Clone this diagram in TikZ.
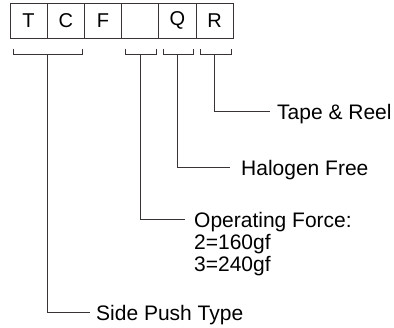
\documentclass[tikz,border=0pt]{standalone}
\usepackage{fontspec}
\setmainfont{Liberation Sans}
\definecolor{ln}{HTML}{3A3333}
\tikzset{
  x=1pt, y=-1pt,
  cell/.style={draw=ln, line width=0.9pt, minimum width=37.2pt, minimum height=35pt, inner sep=0pt, font=\fontsize{20}{20}\selectfont},
  lab/.style={anchor=base west, inner xsep=0pt, inner ysep=0pt, font=\fontsize{21}{22}\selectfont, align=left},
  wire/.style={draw=ln, line width=0.9pt},
}
\begin{document}
\begin{tikzpicture}
\useasboundingbox (0,0) rectangle (394,328);
% boxes
\node[cell] (b1) at (28.6,20.5) {T};
\node[cell] (b2) at (65.8,20.5) {C};
\node[cell] (b3) at (103,20.5) {F};
\node[cell] (b4) at (140.2,20.5) {};
\node[cell] (b5) at (177.4,20.5) {Q};
\node[cell] (b6) at (214.6,20.5) {R};
% bracket centres
\coordinate (s1) at (47.5,54);
\coordinate (s2) at (140.5,54);
\coordinate (s3) at (177.5,54);
\coordinate (s4) at (214.5,54);
% brackets
\draw[wire] (13,49) -- (13,54) -- (82,54) -- (82,49);
\draw[wire] (125,49) -- (125,54) -- (156,54) -- (156,49);
\draw[wire] (163,49) -- (163,54) -- (193,54) -- (193,49);
\draw[wire] (200,49) -- (200,54) -- (231,54) -- (231,49);
% labels
\node[lab] (tr) at (277,120) {Tape \& Reel};
\node[lab] (hf) at (241,176) {Halogen Free};
\node[lab, anchor=north west] (of) at (194,212) {Operating Force:\\2=160gf\\3=240gf};
\node[lab] (sp) at (96,321) {Side Push Type};
% connectors
\draw[wire] (s4) |- ([shift={(-7,-9)}]tr.base west);
\draw[wire] (s3) |- ([shift={(-11,-9)}]hf.base west);
\draw[wire] (s2) |- ([shift={(-9,7)}]of.north west);
\draw[wire] (s1) |- ([shift={(-6,-9)}]sp.base west);
\end{tikzpicture}
\end{document}
